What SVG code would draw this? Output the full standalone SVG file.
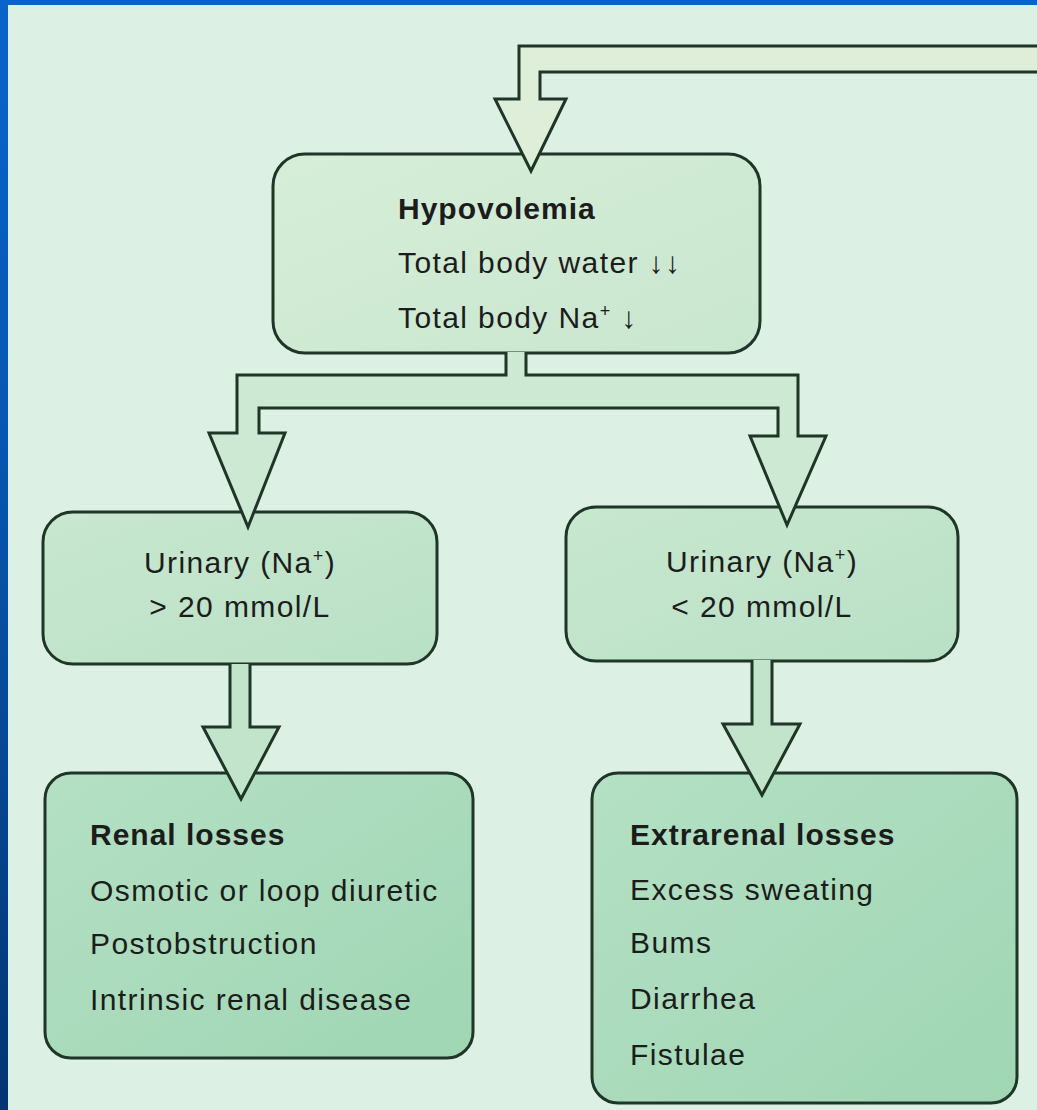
<svg xmlns="http://www.w3.org/2000/svg" width="1037" height="1110" viewBox="0 0 1037 1110">
  <defs>
    <linearGradient id="gTop" x1="0" y1="0" x2="1" y2="1">
      <stop offset="0" stop-color="#d6eed8"/>
      <stop offset="1" stop-color="#c9e6cf"/>
    </linearGradient>
    <linearGradient id="gMid" x1="0" y1="0" x2="1" y2="1">
      <stop offset="0" stop-color="#c8e8cf"/>
      <stop offset="1" stop-color="#b9e0c6"/>
    </linearGradient>
    <linearGradient id="gBot" x1="0" y1="0" x2="1" y2="1">
      <stop offset="0" stop-color="#b4e0c3"/>
      <stop offset="1" stop-color="#9fd6b4"/>
    </linearGradient>
    <linearGradient id="gBlue" x1="0" y1="0" x2="0" y2="1">
      <stop offset="0" stop-color="#0a64cc"/>
      <stop offset="0.5" stop-color="#0752a8"/>
      <stop offset="1" stop-color="#03356f"/>
    </linearGradient>
    <style>
      .node { stroke: #1f3527; stroke-width: 3; }
      .conn { stroke: #1f3527; stroke-width: 3; stroke-linejoin: miter; }
      text { font-family: "Liberation Sans", Arial, sans-serif; font-size: 30px; fill: #1c1c1c; letter-spacing: 1.4px; }
      .b { font-weight: bold; letter-spacing: 1px; }
      .c { text-anchor: middle; }
      .sup { font-size: 18px; }
    </style>
  </defs>

  <!-- background and slide border -->
  <rect x="0" y="0" width="1037" height="1110" fill="#ddf0e4"/>
  <rect x="0" y="0" width="1037" height="5" fill="#0a64cc"/>
  <rect x="0" y="0" width="8" height="1110" fill="url(#gBlue)"/>

  <!-- nodes -->
  <g id="hypovolemia">
    <rect class="node" x="273" y="154" width="487" height="199" rx="32" fill="url(#gTop)"/>
    <text class="b" x="398" y="219">Hypovolemia</text>
    <text x="398" y="273">Total body water ↓↓</text>
    <text x="398" y="328">Total body Na<tspan class="sup" dy="-11">+</tspan><tspan dy="11"> ↓</tspan></text>
  </g>

  <g id="urinary-high">
    <rect class="node" x="43" y="512" width="394" height="152" rx="30" fill="url(#gMid)"/>
    <text class="c" x="240" y="573">Urinary (Na<tspan class="sup" dy="-11">+</tspan><tspan dy="11">)</tspan></text>
    <text class="c" x="240" y="617">&gt; 20 mmol/L</text>
  </g>

  <g id="urinary-low">
    <rect class="node" x="566" y="507" width="392" height="154" rx="30" fill="url(#gMid)"/>
    <text class="c" x="762" y="572">Urinary (Na<tspan class="sup" dy="-11">+</tspan><tspan dy="11">)</tspan></text>
    <text class="c" x="762" y="617">&lt; 20 mmol/L</text>
  </g>

  <g id="renal-losses">
    <rect class="node" x="45" y="773" width="428" height="285" rx="26" fill="url(#gBot)"/>
    <text class="b" x="90" y="845">Renal losses</text>
    <text x="90" y="901">Osmotic or loop diuretic</text>
    <text x="90" y="954">Postobstruction</text>
    <text x="90" y="1010">Intrinsic renal disease</text>
  </g>

  <g id="extrarenal-losses">
    <rect class="node" x="592" y="773" width="425" height="330" rx="26" fill="url(#gBot)"/>
    <text class="b" x="630" y="845">Extrarenal losses</text>
    <text x="630" y="900">Excess sweating</text>
    <text x="630" y="953">Bums</text>
    <text x="630" y="1009">Diarrhea</text>
    <text x="630" y="1065">Fistulae</text>
  </g>

  <!-- connectors (block arrows) -->
  <g id="connectors">
    <path class="conn" fill="#dfeed9" d="M1040,46 L519,46 L519,99 L495,99 L531,171 L566,99 L540,99 L540,72 L1040,72"/>
    <path class="conn" fill="#cde8d3" d="M506,352 L506,375 L237,375 L237,433 L209,433 L248,527 L285,433 L259,433 L259,408 L778,408 L778,436 L750,436 L787,525 L826,436 L798,436 L798,375 L526,375 L526,352"/>
    <path class="conn" fill="#c2e4cb" d="M230,664 L230,727 L203,727 L241,799 L279,727 L250,727 L250,664"/>
    <path class="conn" fill="#c2e4cb" d="M752,660 L752,724 L723,724 L762,795 L800,724 L772,724 L772,660"/>
  </g>
</svg>
